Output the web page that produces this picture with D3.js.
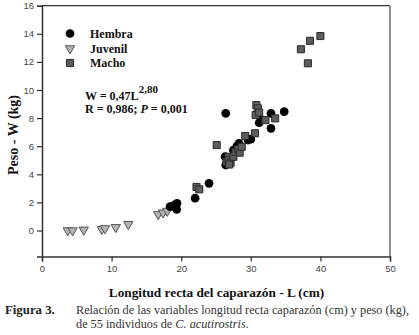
<!DOCTYPE html>
<html>
<head>
<meta charset="utf-8">
<script src="https://cdn.jsdelivr.net/npm/d3@7"></script>
<style>
body { margin: 0; background: #fff; }
svg { display: block; }
</style>
</head>
<body>
<svg id="chart" width="419" height="335"></svg>
<script>
// Data (L in cm, W in kg)
const hembraL = [18.4, 19.0, 19.4, 19.35, 22.0, 24.0, 26.3, 26.4, 26.6, 26.4, 27.5, 28.3, 28.0, 29.6, 30.0, 31.2, 31.5, 32.9, 32.9, 34.8];
const hembraW = [1.7, 1.8, 1.94, 1.5, 2.3, 3.36, 5.25, 4.66, 5.0, 8.34, 5.73, 6.2, 6.0, 6.44, 6.5, 7.67, 7.9, 8.34, 7.27, 8.46];
const juvenilL = [3.7, 4.4, 6.0, 8.6, 9.05, 10.6, 12.4, 16.7, 17.4, 18.0];
const juvenilW = [0.0, 0.0, 0.05, 0.1, 0.15, 0.23, 0.45, 1.15, 1.27, 1.39];
const machoL = [22.2, 22.6, 25.1, 26.5, 26.8, 26.8, 27.1, 27.5, 27.8, 28.2, 28.4, 28.7, 29.2, 30.6, 30.7, 30.8, 31.0, 31.2, 32.1, 33.5, 37.2, 38.2, 38.5, 40.0, 26.9];
const machoW = [3.1, 2.93, 6.08, 4.9, 5.25, 5.0, 4.83, 5.25, 5.6, 5.8, 5.54, 5.96, 6.73, 6.92, 8.22, 8.93, 8.7, 8.4, 7.86, 7.98, 12.9, 11.9, 13.5, 13.84, 4.7];
const xTicks = [0, 10, 20, 30, 40, 50];
const yTicks = [0, 2, 4, 6, 8, 10, 12, 14, 16];
const legendLabels = ["Hembra", "Juvenil", "Macho"];

const svg = d3.select("#chart");
const x = d3.scaleLinear().domain([0, 50]).range([42, 390]);
const y = d3.scaleLinear().domain([-1.85, 16]).range([256.5, 5.7]);

// frame
svg.append("line").attr("x1", x(0)).attr("x2", x(50)).attr("y1", y(16)).attr("y2", y(16))
  .attr("stroke", "#333").attr("stroke-width", 1.2);
svg.append("line").attr("x1", x(50)).attr("x2", x(50)).attr("y1", y(16)).attr("y2", y(-1.85))
  .attr("stroke", "#777").attr("stroke-width", 1.6);

const xAxis = svg.append("g").attr("transform", `translate(0,${y(-1.85)})`)
  .call(d3.axisBottom(x).tickValues(xTicks).tickSize(5).tickPadding(4).tickFormat(d3.format("d")));
const yAxis = svg.append("g").attr("transform", `translate(${x(0)},0)`)
  .call(d3.axisLeft(y).tickValues(yTicks).tickSize(5).tickPadding(3).tickFormat(d3.format("d")));
[xAxis, yAxis].forEach(g => {
  g.select(".domain").attr("stroke", "#333").attr("stroke-width", 1.5);
  g.selectAll(".tick line").attr("stroke", "#333").attr("stroke-width", 1.2);
  g.selectAll(".tick text").attr("fill", "#444")
    .style("font-family", "'Liberation Sans', Arial, sans-serif").style("font-size", "9.5px");
});

// points
const circ = d3.symbol().type(d3.symbolCircle).size(60);
const sq = d3.symbol().type(d3.symbolSquare).size(50);
const tri = d3.symbol().type(d3.symbolTriangle).size(38);

svg.append("g").selectAll("path").data(juvenilL.map((l, i) => [l, juvenilW[i]])).join("path")
  .attr("d", tri).attr("transform", d => `translate(${x(d[0])},${y(d[1])}) rotate(180)`)
  .attr("fill", "#b4b4b4").attr("stroke", "#555").attr("stroke-width", 1);
svg.append("g").selectAll("path").data(hembraL.map((l, i) => [l, hembraW[i]])).join("path")
  .attr("d", circ).attr("transform", d => `translate(${x(d[0])},${y(d[1])})`)
  .attr("fill", "#000");
svg.append("g").selectAll("path").data(machoL.map((l, i) => [l, machoW[i]])).join("path")
  .attr("d", sq).attr("transform", d => `translate(${x(d[0])},${y(d[1])})`)
  .attr("fill", "#5c5c5c").attr("stroke", "#2a2a2a").attr("stroke-width", 1);

// legend
const serif = "'Liberation Serif', 'Times New Roman', serif";
const legY = [33.5, 48.5, 63];
const lg = svg.append("g");
lg.append("path").attr("d", circ).attr("transform", `translate(70,${legY[0]})`).attr("fill", "#000");
lg.append("path").attr("d", tri).attr("transform", `translate(70,${legY[1]}) rotate(180)`)
  .attr("fill", "#b4b4b4").attr("stroke", "#555");
lg.append("path").attr("d", sq).attr("transform", `translate(70,${legY[2]})`)
  .attr("fill", "#5c5c5c").attr("stroke", "#2a2a2a");
legendLabels.forEach((t, i) => {
  lg.append("text").attr("x", 90).attr("y", legY[i] + 4).text(t)
    .style("font-family", serif).style("font-weight", "bold").style("font-size", "12px").attr("fill", "#111");
});

// equation
const eq = svg.append("text").attr("x", 85).attr("y", 100)
  .style("font-family", serif).style("font-weight", "bold").style("font-size", "12px").attr("fill", "#111");
eq.append("tspan").text("W = 0,47L");
eq.append("tspan").attr("dy", -7).style("font-size", "11px").text("2,80");
const eq2 = svg.append("text").attr("x", 85).attr("y", 112.5)
  .style("font-family", serif).style("font-weight", "bold").style("font-size", "12px").attr("fill", "#111");
eq2.append("tspan").text("R = 0,986; ");
eq2.append("tspan").style("font-style", "italic").text("P");
eq2.append("tspan").text(" = 0,001");

// axis titles
svg.append("text").attr("x", 216.5).attr("y", 297).attr("text-anchor", "middle")
  .style("font-family", serif).style("font-weight", "bold").style("font-size", "13.3px").attr("fill", "#111")
  .text("Longitud recta del caparazón - L (cm)");
svg.append("text").attr("transform", "translate(18,135) rotate(-90)").attr("text-anchor", "middle")
  .style("font-family", serif).style("font-weight", "bold").style("font-size", "14px").attr("fill", "#111")
  .text("Peso - W (kg)");

// caption
svg.append("text").attr("x", 5).attr("y", 314)
  .style("font-family", serif).style("font-weight", "bold").style("font-size", "12.8px").attr("fill", "#222")
  .text("Figura 3.");
svg.append("text").attr("x", 76).attr("y", 314)
  .style("font-family", serif).style("font-size", "12.25px").attr("fill", "#333")
  .text("Relación de las variables longitud recta caparazón (cm) y peso (kg),");
const c2 = svg.append("text").attr("x", 76).attr("y", 328)
  .style("font-family", serif).style("font-size", "12.25px").attr("fill", "#333");
c2.append("tspan").text("de 55 individuos de ");
c2.append("tspan").style("font-style", "italic").text("C. acutirostris");
c2.append("tspan").text(".");
</script>
</body>
</html>
